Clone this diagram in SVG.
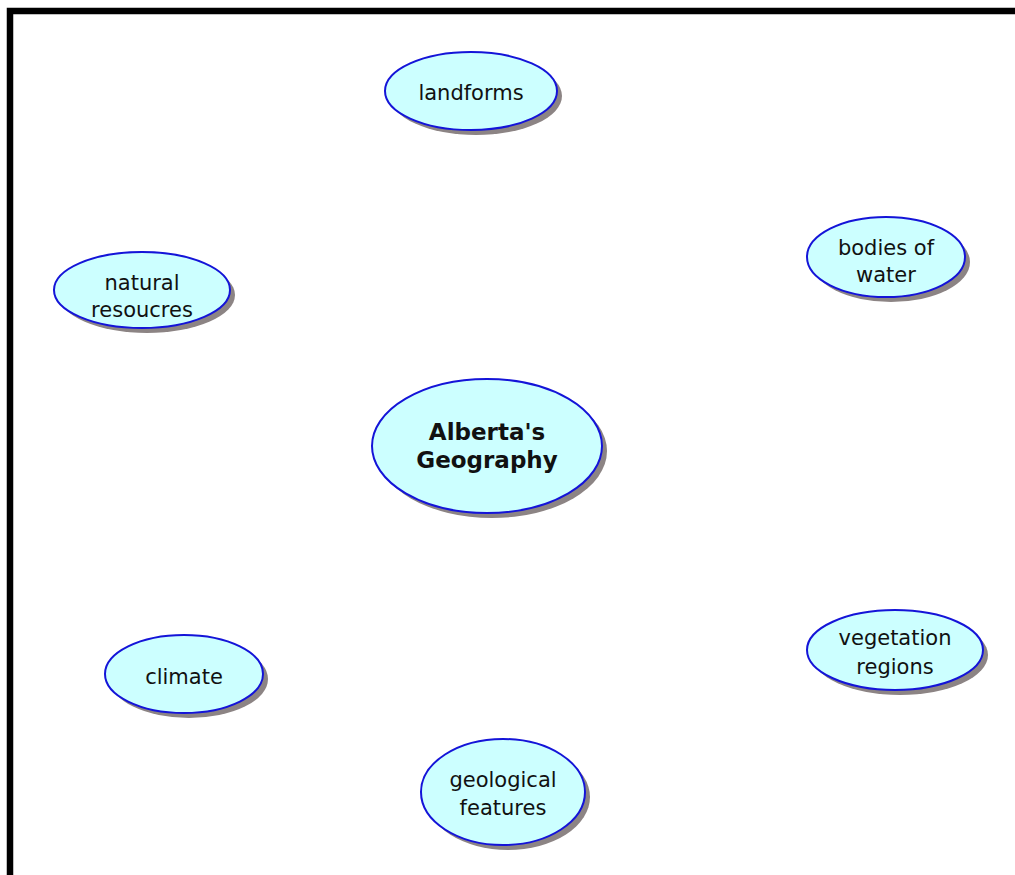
<svg xmlns="http://www.w3.org/2000/svg" width="1015" height="875" viewBox="0 0 1015 875">
<style>
.sh{fill:#8c8484}
.nd{fill:#ccffff;stroke:#1414d8;stroke-width:2}
.t{font-family:"DejaVu Sans",sans-serif;font-size:21px;fill:#111;text-anchor:middle}
.tb{font-family:"DejaVu Sans",sans-serif;font-size:23px;font-weight:bold;fill:#111;text-anchor:middle}
</style>
<rect x="0" y="0" width="1015" height="875" fill="#fff"/>
<path d="M10,875 V11 H1015" fill="none" stroke="#000" stroke-width="6.5"/>
<g id="connectors"></g>
<g id="n-landforms">
<ellipse class="sh" cx="476" cy="96" rx="86" ry="39"/>
<ellipse class="nd" cx="471" cy="91" rx="86" ry="39"/>
<text class="t" x="471" y="100">landforms</text>
</g>
<g id="n-alberta">
<ellipse class="sh" cx="492" cy="451" rx="115" ry="67"/>
<ellipse class="nd" cx="487" cy="446" rx="115" ry="67"/>
<text class="tb" x="487" y="440">Alberta's</text>
<text class="tb" x="487" y="468">Geography</text>
</g>
<g id="n-natural">
<ellipse class="sh" cx="147" cy="295" rx="88" ry="38"/>
<ellipse class="nd" cx="142" cy="290" rx="88" ry="38"/>
<text class="t" x="142" y="290">natural</text>
<text class="t" x="142" y="317">resoucres</text>
</g>
<g id="n-bodies">
<ellipse class="sh" cx="891" cy="262" rx="79" ry="40"/>
<ellipse class="nd" cx="886" cy="257" rx="79" ry="40"/>
<text class="t" x="886" y="255">bodies of</text>
<text class="t" x="886" y="282">water</text>
</g>
<g id="n-climate">
<ellipse class="sh" cx="189" cy="679" rx="79" ry="39"/>
<ellipse class="nd" cx="184" cy="674" rx="79" ry="39"/>
<text class="t" x="184" y="684">climate</text>
</g>
<g id="n-vegetation">
<ellipse class="sh" cx="900" cy="655" rx="88" ry="40"/>
<ellipse class="nd" cx="895" cy="650" rx="88" ry="40"/>
<text class="t" x="895" y="645">vegetation</text>
<text class="t" x="895" y="674">regions</text>
</g>
<g id="n-geological">
<ellipse class="sh" cx="508" cy="797" rx="82" ry="53"/>
<ellipse class="nd" cx="503" cy="792" rx="82" ry="53"/>
<text class="t" x="503" y="787">geological</text>
<text class="t" x="503" y="815">features</text>
</g>
</svg>
